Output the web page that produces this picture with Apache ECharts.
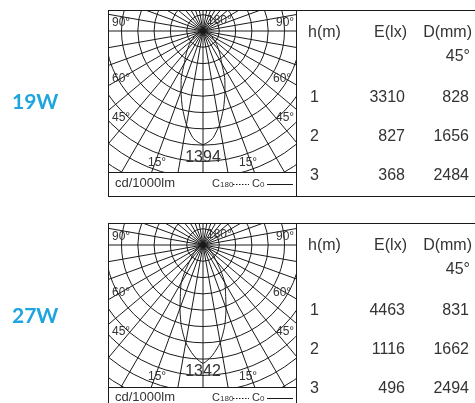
<!DOCTYPE html>
<html>
<head>
<meta charset="utf-8">
<script src="https://cdn.jsdelivr.net/npm/echarts@6/dist/echarts.min.js"></script>
<style>
  html, body { margin: 0; padding: 0; background: #fff; }
  #page { position: relative; width: 475px; height: 403px; overflow: hidden; }
  .polar { position: absolute; left: 108px; width: 189px; z-index: 1; }
  #main { position: absolute; left: 0; top: 0; width: 475px; height: 403px; z-index: 2; pointer-events: none; }
</style>
</head>
<body>
<div id="page">
  <div class="polar" id="polar19" style="top:10px;height:162px"></div>
  <div class="polar" id="polar27" style="top:223px;height:164px"></div>
  <div id="main"></div>
</div>
<script>
// gamma angles (deg from nadir) and intensities in cd/1000lm
const angles = [0, 5, 10, 15, 20, 25, 30, 35, 40, 45, 50, 60, 70, 80, 90]
const c0_19W = [1394, 1326, 1168, 975, 788, 629, 460, 370, 300, 240, 190, 115, 60, 25, 0]
const c0_27W = [1342, 1254, 1125, 951, 764, 606, 495, 345, 227, 170, 125, 80, 45, 20, 0]

const heights = ['1', '2', '3']
const lux19W = ['3310', '827', '368']
const dia19W = ['828', '1656', '2484']
const lux27W = ['4463', '1116', '496']
const dia27W = ['831', '1662', '2494']

const ink = '#1a1a1a'
const txt = '#333'
const font = 'Liberation Sans, Arial, sans-serif'

function lobe(values) {
  const pts = []
  for (let i = angles.length - 1; i >= 0; i--) pts.push([values[i], angles[i]])
  for (let i = 1; i < angles.length; i++) pts.push([values[i], 360 - angles[i]])
  return pts
}

function polarOption(values, ring, cy) {
  return {
    animation: false,
    polar: { center: [95, cy], radius: 179.3 },
    angleAxis: {
      type: 'value', min: 0, max: 360, interval: 10, startAngle: 270,
      axisLine: { show: false }, axisTick: { show: false }, axisLabel: { show: false },
      splitLine: { show: true, lineStyle: { color: ink, width: 1 } }
    },
    radiusAxis: {
      type: 'value', min: 0, max: ring * 11, interval: ring,
      axisLine: { show: false }, axisTick: { show: false }, axisLabel: { show: false },
      splitLine: { show: true, lineStyle: { color: ink, width: 1 } }
    },
    series: [{
      name: 'C0', type: 'line', coordinateSystem: 'polar', symbol: 'none',
      smooth: 0.2, data: lobe(values),
      lineStyle: { color: ink, width: 1 }
    }]
  }
}

const p19 = echarts.init(document.getElementById('polar19'))
p19.setOption(polarOption(c0_19W, 200, 21))
const p27 = echarts.init(document.getElementById('polar27'))
p27.setOption(polarOption(c0_27W, 185, 22))

function text(t, x, y, size, align, extra) {
  return {
    type: 'text', x, y, z: 10,
    style: Object.assign({ text: t, fill: txt, fontSize: size, fontFamily: font, align, verticalAlign: 'middle' }, extra || {})
  }
}
function line(x1, y1, x2, y2, dash) {
  return {
    type: 'line', z: 10, shape: { x1, y1, x2, y2 },
    style: { stroke: ink, lineWidth: 1, lineDash: dash || null }
  }
}

function panel(top, sep, bottom, cy, watt, peak, lux, dia) {
  const els = [
    line(108, top + 0.5, 475, top + 0.5),
    line(108.5, top, 108.5, bottom),
    line(296.5, top, 296.5, bottom),
    line(108, sep + 0.5, 297, sep + 0.5),
    text(watt, 12, cy + 71, 21, 'left', { fill: '#1ea5e0', fontFamily: 'Lato, sans-serif', fontWeight: 'bold' }),
    // angle labels
    text('90°', 112, cy - 8.5, 12, 'left'),
    text('180°', 207, cy - 10, 12, 'left'),
    text('90°', 276, cy - 8.5, 12, 'left'),
    text('60°', 112, cy + 48, 12, 'left'),
    text('60°', 273, cy + 48, 12, 'left'),
    text('45°', 112, cy + 87, 12, 'left'),
    text('45°', 276, cy + 87, 12, 'left'),
    text('15°', 148, cy + 132, 12, 'left'),
    text('15°', 239, cy + 132, 12, 'left'),
    text(peak, 203, cy + 127, 16, 'center'),
    // legend row
    text('cd/1000lm', 115, cy + 152.5, 13, 'left'),
    text('C', 212, cy + 153, 11, 'left'),
    text('180', 220, cy + 153.5, 8, 'left'),
    line(233, cy + 153.5, 249, cy + 153.5, [1.5, 1.5]),
    text('C', 252, cy + 153, 11, 'left'),
    text('0', 260, cy + 153.5, 8, 'left'),
    line(267, cy + 153.5, 293, cy + 153.5),
    // table
    text('h(m)', 308, top + 22.5, 16, 'left'),
    text('E(lx)', 407, top + 22.5, 16, 'right'),
    text('D(mm)', 472, top + 22.5, 16, 'right'),
    text('45°', 470, top + 46.5, 16, 'right')
  ]
  const rows = [87.5, 127, 166]
  heights.forEach((h, i) => {
    els.push(text(h, 310, top + rows[i], 16, 'left'))
    els.push(text(lux[i], 405, top + rows[i], 16, 'right'))
    els.push(text(dia[i], 469, top + rows[i], 16, 'right'))
  })
  if (bottom < 403) els.push(line(108, bottom + 0.5, 475, bottom + 0.5))
  return els
}

const main = echarts.init(document.getElementById('main'))
main.setOption({
  animation: false,
  graphic: {
    elements: [].concat(
      panel(10, 172, 196, 31, '19W', '1394', lux19W, dia19W),
      panel(223, 387, 410, 245, '27W', '1342', lux27W, dia27W)
    )
  }
})
</script>
</body>
</html>
